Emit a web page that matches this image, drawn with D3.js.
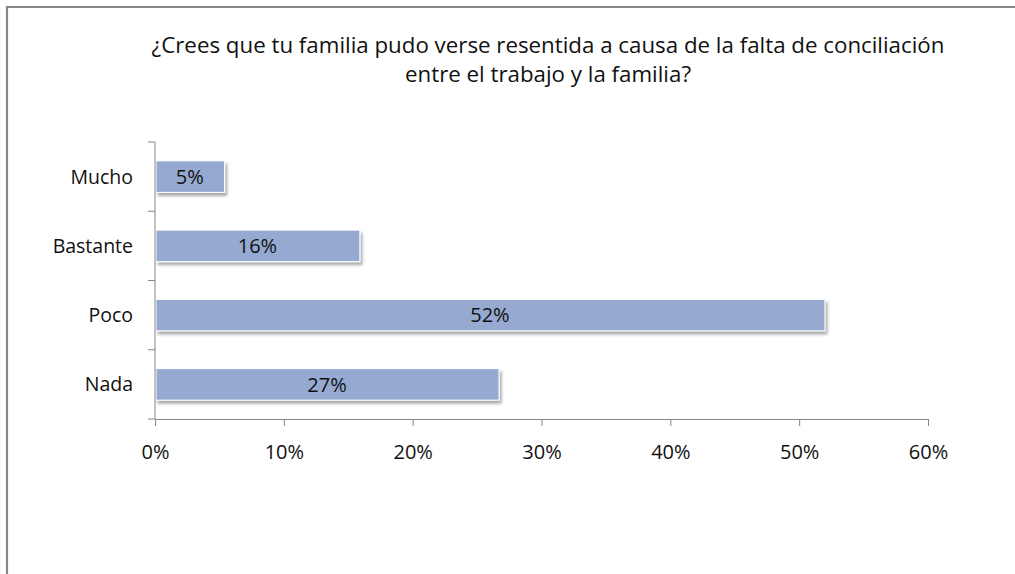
<!DOCTYPE html>
<html>
<head>
<meta charset="utf-8">
<script src="https://cdn.jsdelivr.net/npm/d3@7"></script>
<style>
  html, body { margin: 0; padding: 0; background: #fff; }
  svg { display: block; font-family: "Open Sans", sans-serif; }
</style>
</head>
<body>
<svg id="chart"></svg>
<script>
const categories = ["Mucho", "Bastante", "Poco", "Nada"];
const values = [5.4, 15.9, 52.0, 26.7];
const valueLabels = ["5%", "16%", "52%", "27%"];
const xTicks = [0, 10, 20, 30, 40, 50, 60];
const titleLines = [
    "¿Crees que tu familia pudo verse resentida a causa de la falta de conciliación",
    "entre el trabajo y la familia?"
];

const width = 1015;
const height = 574;
const margin = {top: 142, right: 87, bottom: 155, left: 155};

const svg = d3.select("#chart")
    .attr("width", width)
    .attr("height", height)
    .attr("viewBox", [0, 0, width, height]);

// drop shadow like the office chart
const defs = svg.append("defs");
const filter = defs.append("filter")
    .attr("id", "shadow")
    .attr("x", "-5%").attr("y", "-20%")
    .attr("width", "115%").attr("height", "160%");
filter.append("feDropShadow")
    .attr("dx", 2).attr("dy", 3)
    .attr("stdDeviation", 1.6)
    .attr("flood-color", "#000")
    .attr("flood-opacity", 0.35);

// outer frame (only top and left edges visible in the crop)
svg.append("path")
    .attr("d", `M7,${height} V7 H${width}`)
    .attr("fill", "none")
    .attr("stroke", "#878787")
    .attr("stroke-width", 2.2);

const x = d3.scaleLinear()
    .domain([0, 60])
    .range([margin.left, width - margin.right]);

const y = d3.scaleBand()
    .domain(categories)
    .range([margin.top, height - margin.bottom])
    .paddingInner(0.545)
    .paddingOuter(0.2725);

// title
svg.append("g")
    .selectAll("text")
    .data(titleLines)
    .join("text")
    .attr("x", 548)
    .attr("y", (d, i) => 53 + i * 29)
    .attr("text-anchor", "middle")
    .style("font-size", "22.3px")
    .style("fill", "#111")
    .text(d => d);

// bars
svg.append("g")
    .selectAll("rect")
    .data(categories)
    .join("rect")
    .attr("x", x(0) + 1)
    .attr("y", d => y(d))
    .attr("width", (d, i) => x(values[i]) - x(0) - 1)
    .attr("height", y.bandwidth())
    .attr("fill", "#95a9d1")
    .attr("stroke", "#fff")
    .attr("stroke-width", 1)
    .attr("filter", "url(#shadow)");

// value labels
svg.append("g")
    .selectAll("text")
    .data(categories)
    .join("text")
    .attr("x", (d, i) => (x(0) + x(values[i])) / 2)
    .attr("y", d => y(d) + y.bandwidth() / 2)
    .attr("dy", "0.36em")
    .attr("text-anchor", "middle")
    .style("font-size", "20px")
    .style("fill", "#111")
    .text((d, i) => valueLabels[i]);

// x axis
const xAxis = svg.append("g")
    .attr("transform", `translate(0,${height - margin.bottom})`)
    .call(d3.axisBottom(x)
        .tickValues(xTicks)
        .tickFormat(d => d + "%")
        .tickSize(7)
        .tickSizeOuter(7)
        .tickPadding(19));

// y axis with ticks between categories
const yAxis = svg.append("g")
    .attr("transform", `translate(${margin.left},0)`);
yAxis.append("line")
    .attr("y1", margin.top)
    .attr("y2", height - margin.bottom);
const step = (height - margin.bottom - margin.top) / categories.length;
yAxis.selectAll(".sep")
    .data(d3.range(categories.length + 1))
    .join("line")
    .attr("class", "sep")
    .attr("x1", -7)
    .attr("x2", 0)
    .attr("y1", i => margin.top + i * step)
    .attr("y2", i => margin.top + i * step);
yAxis.selectAll("text")
    .data(categories)
    .join("text")
    .attr("x", -22)
    .attr("y", d => y(d) + y.bandwidth() / 2)
    .attr("dy", "0.36em")
    .attr("text-anchor", "end")
    .style("font-size", "19.5px")
    .style("fill", "#111")
    .text(d => d);
yAxis.selectAll("line").attr("stroke", "#868686");

xAxis.select(".domain").attr("stroke", "#868686");
xAxis.selectAll(".tick line").attr("stroke", "#868686");
xAxis.selectAll(".tick text")
    .style("font-size", "20px")
    .style("font-family", "'Open Sans', sans-serif")
    .style("fill", "#111");
</script>
</body>
</html>
